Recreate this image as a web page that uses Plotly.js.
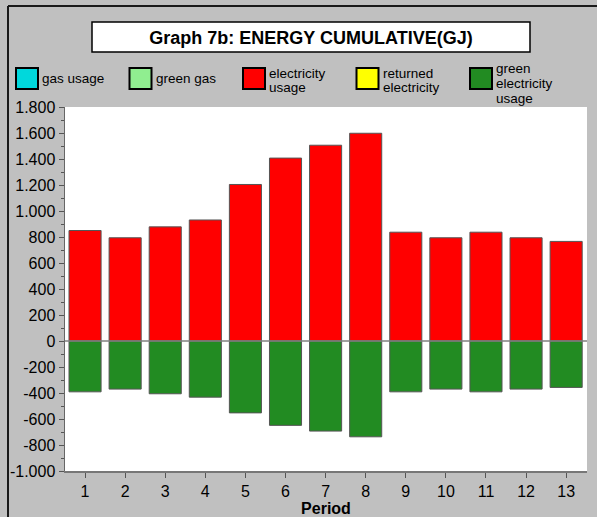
<!DOCTYPE html>
<html>
<head>
<meta charset="utf-8">
<script src="https://cdn.plot.ly/plotly-3.0.1.min.js"></script>
<style>html,body{margin:0;padding:0;background:#c0c0c0;}#chart{width:597px;height:517px;}</style>
</head>
<body>
<div id="chart"></div>
<script>
// ---- data ----
const periods = [1, 2, 3, 4, 5, 6, 7, 8, 9, 10, 11, 12, 13];
const electricityUsage = [850, 794, 878, 931, 1204, 1407, 1506, 1598, 837, 794, 837, 794, 766];
const greenElectricityUsage = [-391, -370, -406, -432, -553, -649, -693, -737, -391, -370, -391, -370, -357];
const yTickVals = [1800, 1600, 1400, 1200, 1000, 800, 600, 400, 200, 0, -200, -400, -600, -800, -1000];
const yTickText = ["1.800", "1.600", "1.400", "1.200", "1.000", "800", "600", "400", "200", "0", "-200", "-400", "-600", "-800", "-1.000"];
const legendLabels = [["gas usage"], ["green gas"], ["electricity", "usage"], ["returned", "electricity"], ["green", "electricity", "usage"]];
const legendColors = ["#00d8dc", "#90ee90", "#ff0000", "#ffff00", "#228b22"];
const chartTitle = "Graph 7b: ENERGY CUMULATIVE(GJ)";
const xTitle = "Period";

// ---- layout geometry (pixels) ----
const W = 597, H = 517;
const mL = 65, mR = 10, mT = 107, mB = 46;
const pw = W - mL - mR, ph = H - mT - mB;
const px = x => (x - mL) / pw;
const py = y => (H - mB - y) / ph;

const font = "Liberation Sans, Arial, sans-serif";

const traces = [
  {
    type: "bar", name: "electricity usage", x: periods, y: electricityUsage,
    marker: {color: legendColors[2], line: {color: "#555555", width: 1}},
    hoverinfo: "x+y", showlegend: false
  },
  {
    type: "bar", name: "green electricity usage", x: periods, y: greenElectricityUsage,
    marker: {color: legendColors[4], line: {color: "#555555", width: 1}},
    hoverinfo: "x+y", showlegend: false
  }
];

const shapes = [
  // outer frame
  {type: "line", xref: "paper", yref: "paper", x0: px(8), x1: px(8), y0: py(6), y1: py(560), line: {color: "#1a1a1a", width: 2}},
  {type: "line", xref: "paper", yref: "paper", x0: px(8), x1: px(620), y0: py(6), y1: py(6), line: {color: "#1a1a1a", width: 2}},
  // title box
  {type: "rect", xref: "paper", yref: "paper", x0: px(92), x1: px(530), y0: py(52), y1: py(22), fillcolor: "#ffffff", line: {color: "#000000", width: 1.5}, layer: "above"},
  // zero line
  {type: "line", xref: "paper", yref: "y", x0: 0, x1: 1, y0: 0, y1: 0, line: {color: "#808080", width: 1.5}, layer: "above"}
];

const annotations = [];
legendLabels.forEach((lines, i) => {
  const x0 = 15 + i * 113.5;
  shapes.push({type: "rect", xref: "paper", yref: "paper", x0: px(x0 + 1), x1: px(x0 + 23), y0: py(89), y1: py(68),
    fillcolor: legendColors[i], line: {color: "#000000", width: 2}, layer: "above"});
  const n = lines.length;
  const start = n === 1 ? 78.5 : (n === 2 ? 73 : 69);
  lines.forEach((t, k) => {
    annotations.push({xref: "paper", yref: "paper", x: px(x0 + 25), y: py(start + k * 14.5), xanchor: "left", yanchor: "middle",
      text: t, showarrow: false, font: {family: font, size: 13.5, color: "#000"}});
  });
});

const layout = {
  width: W, height: H,
  margin: {l: mL, r: mR, t: mT, b: mB, pad: 0},
  paper_bgcolor: "#c0c0c0",
  plot_bgcolor: "#ffffff",
  barmode: "relative",
  bargap: 0.2,
  showlegend: false,
  title: {text: "<b>" + chartTitle + "</b>", xref: "container", yref: "container", x: 311 / W, y: 1 - 37.5 / H,
    xanchor: "center", yanchor: "middle", font: {family: font, size: 18, color: "#000"}},
  xaxis: {
    range: [0.5, 13.52], tickmode: "array", tickvals: periods, ticktext: periods.map(String),
    ticks: "outside", ticklen: 5, tickcolor: "#555", showline: true, linecolor: "#777", linewidth: 1.5,
    showgrid: false, zeroline: false, tickfont: {family: font, size: 16, color: "#000"},
    title: {text: "<b>" + xTitle + "</b>", standoff: 0, font: {family: font, size: 16, color: "#000"}}
  },
  yaxis: {
    range: [-1000, 1800], tickmode: "array", tickvals: yTickVals, ticktext: yTickText,
    ticks: "outside", ticklen: 5, tickcolor: "#555", showline: true, linecolor: "#666", linewidth: 1.5,
    showgrid: false, zeroline: false, tickfont: {family: font, size: 16, color: "#000"},
    minor: {tickmode: "linear", tick0: 0, dtick: 100, ticks: "outside", ticklen: 3, tickcolor: "#555", showgrid: false}
  },
  shapes: shapes,
  annotations: annotations
};

Plotly.newPlot("chart", traces, layout, {displayModeBar: false, staticPlot: true});
</script>
</body>
</html>
